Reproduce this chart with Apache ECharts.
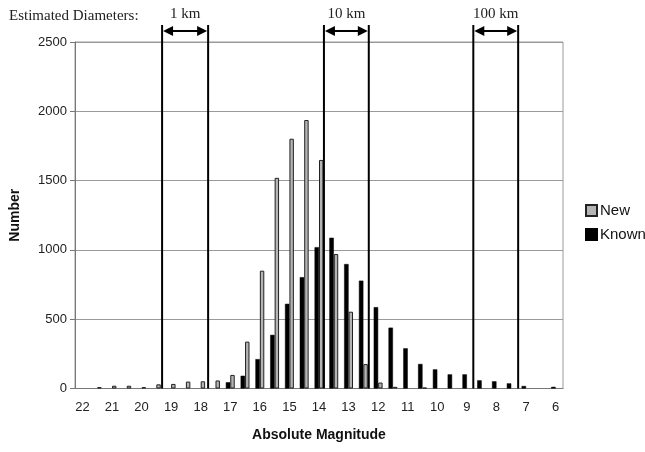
<!DOCTYPE html>
<html>
<head>
<meta charset="utf-8">
<script src="https://cdn.jsdelivr.net/npm/echarts@6/dist/echarts.min.js"></script>
<style>
html,body{margin:0;padding:0;background:#fff;}
#main{width:645px;height:452px;}
</style>
</head>
<body>
<div id="main"></div>
<script>
// Absolute magnitude bins (22 down to 6, step 0.5)
const categories = ['22','21.5','21','20.5','20','19.5','19','18.5','18','17.5','17','16.5','16','15.5','15','14.5','14','13.5','13','12.5','12','11.5','11','10.5','10','9.5','9','8.5','8','7.5','7','6.5','6'];
const newValues   = [0,10,20,20,10,30,33,50,52,58,98,338,850,1520,1802,1937,1649,970,554,176,43,12,0,6,0,0,0,0,0,0,0,0,0];
const knownValues = [0,0,0,0,0,0,0,0,0,0,45,92,212,387,611,803,1020,1088,898,778,587,439,290,177,138,102,102,59,52,37,18,0,12];
const yTicks = [0,500,1000,1500,2000,2500];
// Estimated diameter ranges, in magnitudes
const diameterLabels = ['1 km','10 km','100 km'];
const diameterFrom   = [19.25, 13.8, 8.77];
const diameterTo     = [17.7, 12.29, 7.26];

const chart = echarts.init(document.getElementById('main'));
const sans = '"Liberation Sans", Arial, sans-serif';
const serif = '"Liberation Serif", "Times New Roman", serif';

const diameterData = diameterLabels.map((l,i)=>[diameterFrom[i], diameterTo[i], l]);
const noZero = v => (v === 0 ? '-' : v);

chart.setOption({
  animation:false,
  backgroundColor:'#fff',
  title:{
    text:'Estimated Diameters:',
    left:4, top:4,
    textStyle:{fontFamily:serif,fontSize:15,fontWeight:'normal',color:'#222'}
  },
  legend:{
    data:['New','Known'],
    orient:'vertical',
    left:580, top:198,
    itemWidth:11, itemHeight:11, itemGap:9,
    icon:'rect',
    textStyle:{fontFamily:sans,fontSize:15,color:'#111',padding:[0,0,0,-2]}
  },
  grid:[
    {left:73,right:82,top:42,bottom:63.5,show:true,borderColor:'#9a9a9a',borderWidth:1},
    {left:73,right:82,top:25,bottom:63.5,show:false}
  ],
  xAxis:[
    {
      type:'category', data:categories, gridIndex:0,
      boundaryGap:true,
      axisLine:{lineStyle:{color:'#777',width:1}},
      axisTick:{interval:0,length:4,lineStyle:{color:'#777'}},
      axisLabel:{interval:1,margin:12,fontFamily:sans,fontSize:13,color:'#222'},
      name:'Absolute Magnitude', nameLocation:'middle', nameGap:40,
      nameTextStyle:{fontFamily:sans,fontSize:14,fontWeight:'bold',color:'#111'}
    },
    {type:'value', gridIndex:1, min:5.75, max:22.25, inverse:true, show:false}
  ],
  yAxis:[
    {
      type:'value', gridIndex:0, min:0, max:2500, interval:500,
      axisLine:{show:true,lineStyle:{color:'#777'}},
      axisTick:{show:true,length:5,lineStyle:{color:'#777'}},
      splitLine:{lineStyle:{color:'#9a9a9a',width:1}},
      axisLabel:{margin:8,fontFamily:sans,fontSize:13,color:'#222',
        formatter:v=>String(v)},
      name:'Number', nameLocation:'middle', nameGap:53,
      nameTextStyle:{fontFamily:sans,fontSize:14,fontWeight:'bold',color:'#111'}
    },
    {type:'value', gridIndex:1, min:0, max:1, show:false}
  ],
  series:[
    {
      name:'Known', type:'bar', xAxisIndex:0, yAxisIndex:0,
      data:knownValues.map(noZero),
      barGap:'0%', barCategoryGap:'40%',
      itemStyle:{color:'#000',borderColor:'#000',borderWidth:0.5}
    },
    {
      name:'New', type:'bar', xAxisIndex:0, yAxisIndex:0,
      data:newValues.map(noZero),
      barGap:'0%', barCategoryGap:'40%',
      itemStyle:{color:'#b4b4b4',borderColor:'#222',borderWidth:1}
    },
    {
      name:'diam', type:'custom', xAxisIndex:1, yAxisIndex:1,
      data:diameterData, clip:false, silent:true, z:10,
      renderItem:function(params, api){
        const a0 = api.coord([api.value(0), 0]);
        const a1 = api.coord([api.value(0), 1]);
        const b0 = api.coord([api.value(1), 0]);
        const b1 = api.coord([api.value(1), 1]);
        const ay = a1[1] + 6;
        const h = 10, w = 5;
        return {type:'group', children:[
          {type:'line', shape:{x1:a0[0],y1:a0[1],x2:a1[0],y2:a1[1]}, style:{stroke:'#000',lineWidth:2}},
          {type:'line', shape:{x1:b0[0],y1:b0[1],x2:b1[0],y2:b1[1]}, style:{stroke:'#000',lineWidth:2}},
          {type:'line', shape:{x1:a1[0]+h,y1:ay,x2:b1[0]-h,y2:ay}, style:{stroke:'#000',lineWidth:2}},
          {type:'polygon', shape:{points:[[a1[0]+1,ay],[a1[0]+1+h,ay-w],[a1[0]+1+h,ay+w]]}, style:{fill:'#000'}},
          {type:'polygon', shape:{points:[[b1[0]-1,ay],[b1[0]-1-h,ay-w],[b1[0]-1-h,ay+w]]}, style:{fill:'#000'}},
          {type:'text', style:{text:api.value(2), x:(a1[0]+b1[0])/2, y:a1[1]-11,
            align:'center', verticalAlign:'middle', fontFamily:serif, fontSize:15, fill:'#222'}}
        ]};
      }
    }
  ]
});
</script>
</body>
</html>
